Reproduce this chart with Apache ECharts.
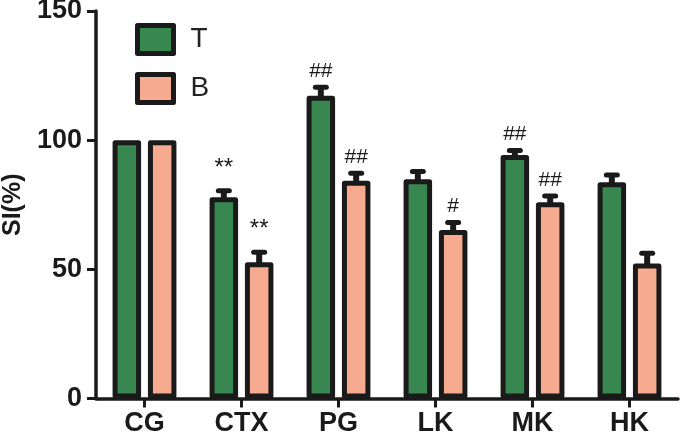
<!DOCTYPE html>
<html>
<head>
<meta charset="utf-8">
<script src="https://cdn.jsdelivr.net/npm/echarts@6/dist/echarts.min.js"></script>
<style>
html,body{margin:0;padding:0;background:#ffffff;}
#c{width:683px;height:436px;}
</style>
</head>
<body>
<div id="c"></div>
<script>
var categories = ['CG', 'CTX', 'PG', 'LK', 'MK', 'HK'];
var seriesNames = ['T', 'B'];
var valuesT = [100, 77.9, 117.2, 84.9, 94.3, 83.7];
var valuesB = [100, 52.7, 84.3, 65.2, 76.0, 52.3];
var errT = [0, 2.5, 3.3, 3.0, 1.7, 2.8];
var errB = [0, 3.9, 2.9, 2.9, 2.4, 3.9];
var marksT = ['', '**', '##', '', '##', ''];
var marksB = ['', '**', '##', '#', '##', ''];
var yTicks = [0, 50, 100, 150];

var GREEN = '#388750';
var SALMON = '#f6aa8f';
var INK = '#1a1a1a';
var BAR_W = 28.5;
var BAR_GAP = 0.24;

function errData(vals, errs) {
  return vals.map(function (v, i) { return [i, v, errs[i]]; });
}

function makeRender(sign, marks) {
  return function (params, api) {
    var idx = api.value(0);
    var v = api.value(1);
    var e = api.value(2);
    var off = sign * (BAR_W + BAR_W * BAR_GAP) / 2;
    var base = api.coord([idx, v]);
    var top = api.coord([idx, v + e]);
    var x = base[0] + off;
    var children = [];
    var capY = top[1];
    if (e > 0) {
      children.push({
        type: 'line',
        shape: { x1: x, y1: base[1] + 2, x2: x, y2: capY },
        style: { stroke: INK, lineWidth: 6 }
      });
      children.push({
        type: 'line',
        shape: { x1: x - 5.5, y1: capY, x2: x + 5.5, y2: capY },
        style: { stroke: INK, lineWidth: 5, lineCap: 'round' }
      });
    }
    var m = marks[params.dataIndex];
    if (m) {
      var capTop = capY - 2.5;
      var star = m.indexOf('*') >= 0;
      var gap = star ? 8 : 3;
      children.push({
        type: 'text',
        style: {
          text: m,
          x: x,
          y: capTop - gap,
          textAlign: 'center',
          textVerticalAlign: 'bottom',
          fill: INK,
          font: (star ? '24px' : '21px') + ' "Liberation Sans", Arial, sans-serif'
        }
      });
    }
    return { type: 'group', children: children };
  };
}

var chart = echarts.init(document.getElementById('c'), null, { renderer: 'canvas' });
chart.setOption({
  backgroundColor: '#ffffff',
  animation: false,
  grid: { left: 96, right: 5, top: 11, bottom: 37.5, containLabel: false, outerBoundsMode: 'none' },
  legend: {
    data: seriesNames,
    orient: 'vertical',
    left: 135,
    top: 23,
    padding: 0,
    itemWidth: 36,
    itemHeight: 28,
    itemGap: 16,
    icon: 'rect',
    itemStyle: { borderColor: INK, borderWidth: 5, borderJoin: 'round' },
    textStyle: {
      fontSize: 28,
      color: '#222222',
      fontFamily: '"Liberation Sans", Arial, sans-serif',
      padding: [0, 0, 0, 12]
    }
  },
  xAxis: {
    type: 'category',
    data: categories,
    axisLine: { show: true, lineStyle: { color: INK, width: 3.5 } },
    axisTick: { show: true, alignWithLabel: true, length: 9, lineStyle: { color: INK, width: 3 } },
    axisLabel: {
      margin: 12,
      color: INK,
      fontSize: 27,
      fontWeight: 'bold',
      fontFamily: '"Liberation Sans", Arial, sans-serif'
    }
  },
  yAxis: {
    type: 'value',
    min: 0,
    max: 150,
    interval: 50,
    name: 'SI(%)',
    nameLocation: 'middle',
    nameGap: 70,
    nameTextStyle: {
      color: INK,
      fontSize: 25,
      fontWeight: 'bold',
      fontFamily: '"Liberation Sans", Arial, sans-serif'
    },
    splitLine: { show: false },
    axisLine: { show: true, lineStyle: { color: INK, width: 3.5 } },
    axisTick: { show: true, length: 9, lineStyle: { color: INK, width: 3 } },
    axisLabel: {
      margin: 14,
      color: INK,
      fontSize: 27,
      fontWeight: 'bold',
      fontFamily: '"Liberation Sans", Arial, sans-serif',
      formatter: function (v) { return yTicks.indexOf(v) >= 0 ? String(v) : ''; }
    }
  },
  series: [
    {
      name: 'T',
      type: 'bar',
      data: valuesT,
      barWidth: BAR_W,
      barGap: (BAR_GAP * 100) + '%',
      itemStyle: { color: GREEN, borderColor: INK, borderWidth: 5, borderJoin: 'round' }
    },
    {
      name: 'B',
      type: 'bar',
      data: valuesB,
      barWidth: BAR_W,
      barGap: (BAR_GAP * 100) + '%',
      itemStyle: { color: SALMON, borderColor: INK, borderWidth: 5, borderJoin: 'round' }
    },
    {
      name: 'errT',
      type: 'custom',
      renderItem: makeRender(-1, marksT),
      data: errData(valuesT, errT),
      z: 5,
      silent: true
    },
    {
      name: 'errB',
      type: 'custom',
      renderItem: makeRender(1, marksB),
      data: errData(valuesB, errB),
      z: 5,
      silent: true
    }
  ]
});
</script>
</body>
</html>
